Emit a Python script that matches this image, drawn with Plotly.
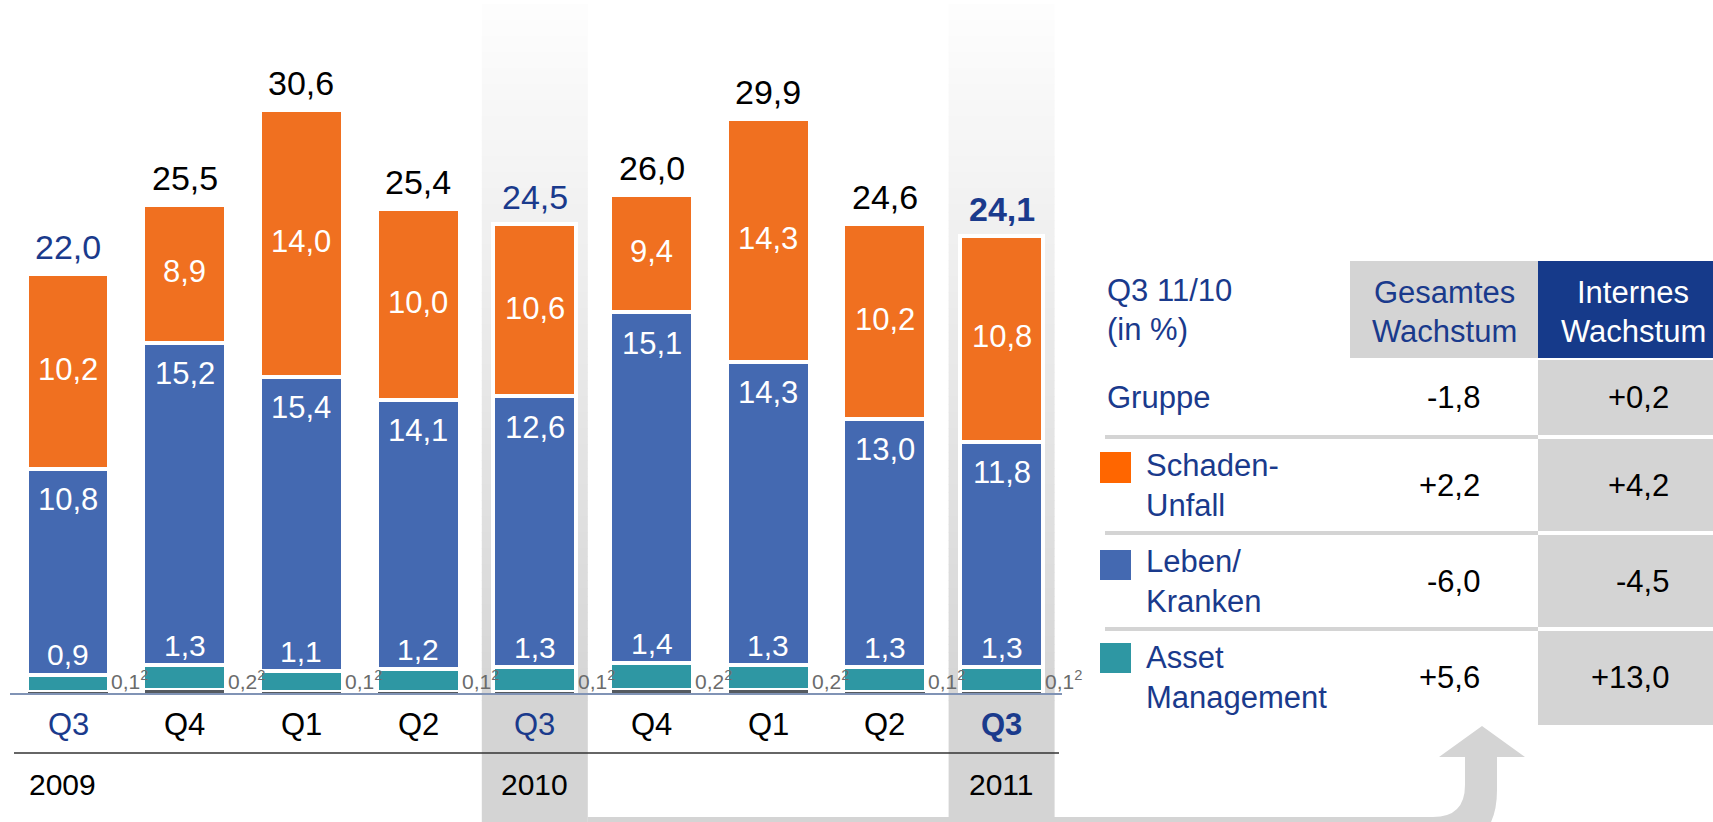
import numpy as np
import plotly.graph_objects as go

# ---------------- data ----------------
quarters = ["Q3", "Q4", "Q1", "Q2", "Q3", "Q4", "Q1", "Q2", "Q3"]
year_labels = ["2009", "2010", "2011"]
year_positions = [0, 4, 8]
highlight = [4, 8]

# printed segment values (labels)
corporate = [0.1, 0.2, 0.1, 0.1, 0.1, 0.2, 0.2, 0.1, 0.1]
asset_management = [0.9, 1.3, 1.1, 1.2, 1.3, 1.4, 1.3, 1.3, 1.3]
life_health = [10.8, 15.2, 15.4, 14.1, 12.6, 15.1, 14.3, 13.0, 11.8]
property_casualty = [10.2, 8.9, 14.0, 10.0, 10.6, 9.4, 14.3, 10.2, 10.8]
totals = [22.0, 25.5, 30.6, 25.4, 24.5, 26.0, 29.9, 24.6, 24.1]
# segment heights as drawn in the picture (some segments are not drawn to scale)
life_health_drawn = [10.8, 16.9, 15.4, 14.1, 14.2, 18.4, 15.9, 13.0, 11.8]
property_casualty_drawn = [10.2, 7.2, 14.0, 10.0, 9.0, 6.1, 12.7, 10.2, 10.8]

table_title = ["Q3 11/10", "(in %)"]
col_headers = [["Gesamtes", "Wachstum"], ["Internes", "Wachstum"]]
row_labels = [["Gruppe"], ["Schaden-", "Unfall"], ["Leben/", "Kranken"], ["Asset", "Management"]]
total_growth = [-1.8, 2.2, -6.0, 5.6]
internal_growth = [0.2, 4.2, -4.5, 13.0]

# ---------------- styling ----------------
W, H = 1713, 822
FONT = "Liberation Sans, Arial, sans-serif"
ORANGE = "#F07020"
BLUE = "#4469B1"
TEAL = "#2E97A3"
DARKGREY = "#555A60"
NAVY = "#1A3A8C"
LIGHTGREY = "#D4D4D4"

X0, DX = 68.0, 116.7     # pixel of category 0, pixel per category
Y0, DY = 694.0, 19.1     # pixel of value 0, pixel per unit


def fmt(v):
    return f"{v:.1f}".replace(".", ",")


def fmt_sign(v):
    return f"{v:+.1f}".replace(".", ",")


def px(x):
    return x / W


def py(y):
    return 1 - y / H


xs = np.arange(len(quarters))
corp = np.array(corporate)
am = np.array(asset_management)
lh = np.array(life_health_drawn)
pc = np.array(property_casualty_drawn)
base_am = corp
base_lh = corp + am
base_pc = corp + am + lh
top = base_pc + pc

BW = 0.71
fig = go.Figure()
for vals, base, col in [(am, base_am, TEAL), (lh, base_lh, BLUE), (pc, base_pc, ORANGE)]:
    fig.add_trace(go.Bar(x=xs, y=vals, base=base, width=BW, marker=dict(color=col, line=dict(color="white", width=4)),
                         hoverinfo="skip", showlegend=False))
fig.add_trace(go.Bar(x=xs, y=corp, base=np.zeros(len(xs)), width=0.68,
                     marker=dict(color=DARKGREY, line=dict(width=0)), hoverinfo="skip", showlegend=False))

shapes = []
# gradient highlight columns
for c in highlight:
    cx = X0 + DX * c
    x0, x1 = cx - 53, cx + 53
    ytop, ybot = 4, 700
    n = 87
    step = (ybot - ytop) / n
    for k in range(n):
        t = k / (n - 1)
        g = int(round(253 - t * (253 - 213)))
        col = f"rgb({g},{g},{g})"
        shapes.append(dict(type="rect", xref="paper", yref="paper", x0=px(x0), x1=px(x1),
                           y0=py(ytop + (k + 1) * step + 0.5), y1=py(ytop + k * step),
                           fillcolor=col, line=dict(width=0), layer="below"))
    shapes.append(dict(type="rect", xref="paper", yref="paper", x0=px(x0), x1=px(x1),
                       y0=py(H), y1=py(ybot), fillcolor=LIGHTGREY, line=dict(width=0), layer="below"))

# arrow from 2010 column to table
pts = ("M {a},{b} L 1433,817 Q 1465,817 1465,785 L 1465,757 L 1439,757 L 1482,726 L 1525,757 "
       "L 1497,757 L 1497,790 Q 1497,849 1440,849 L {a},849 Z").format(a=X0 + DX * 4 + 53, b=817)


def conv_path(p):
    out = []
    for tok in p.split():
        if "," in tok:
            a, b = tok.split(",")
            out.append(f"{px(float(a)):.5f},{py(float(b)):.5f}")
        else:
            out.append(tok)
    return " ".join(out)


shapes.append(dict(type="path", xref="paper", yref="paper", path=conv_path(pts),
                   fillcolor=LIGHTGREY, line=dict(width=0), layer="below"))

# axis line and year separator line
shapes.append(dict(type="line", xref="paper", yref="paper", x0=px(10), x1=px(1062), y0=py(694), y1=py(694),
                   line=dict(color="#8093B5", width=2), layer="above"))
shapes.append(dict(type="line", xref="paper", yref="paper", x0=px(14), x1=px(1059), y0=py(753), y1=py(753),
                   line=dict(color="#333333", width=1.5), layer="above"))

# table boxes
TL, C1, C2, TR = 1105, 1350, 1538, 1713
shapes.append(dict(type="rect", xref="paper", yref="paper", x0=px(C1), x1=px(C2), y0=py(358), y1=py(261),
                   fillcolor=LIGHTGREY, line=dict(width=0)))
shapes.append(dict(type="rect", xref="paper", yref="paper", x0=px(C2), x1=px(TR), y0=py(358), y1=py(261),
                   fillcolor="#163A8A", line=dict(width=0)))
shapes.append(dict(type="rect", xref="paper", yref="paper", x0=px(C2), x1=px(TR), y0=py(725), y1=py(360),
                   fillcolor=LIGHTGREY, line=dict(width=0)))
for ysep in [437, 533, 629]:
    shapes.append(dict(type="rect", xref="paper", yref="paper", x0=px(TL), x1=px(C2), y0=py(ysep + 2),
                       y1=py(ysep - 2), fillcolor=LIGHTGREY, line=dict(width=0)))
    shapes.append(dict(type="rect", xref="paper", yref="paper", x0=px(C2), x1=px(TR), y0=py(ysep + 2),
                       y1=py(ysep - 2), fillcolor="white", line=dict(width=0)))
# legend squares
for (y0s, y1s), col in zip([(452, 483), (550, 580), (643, 673)], ["#FF6600", BLUE, TEAL]):
    shapes.append(dict(type="rect", xref="paper", yref="paper", x0=px(1100), x1=px(1131), y0=py(y1s), y1=py(y0s),
                       fillcolor=col, line=dict(width=0)))

ann = []


def txt(text, x, y, size=31, color="black", xanchor="center", xref="paper", yref="paper", yshift=0, xshift=0,
        bold=False):
    if bold:
        text = f"<b>{text}</b>"
    ann.append(dict(text=text, x=x, y=y, xref=xref, yref=yref, xanchor=xanchor, yanchor="middle",
                    showarrow=False, font=dict(family=FONT, size=size, color=color), yshift=yshift, xshift=xshift))


for i in range(len(quarters)):
    is_q3 = quarters[i] == "Q3"
    bold = i == 8
    # total
    txt(fmt(totals[i]), i, top[i], size=34, color=NAVY if is_q3 else "black", xref="x", yref="y", yshift=27,
        bold=bold)
    # segment labels
    txt(fmt(property_casualty[i]), i, base_pc[i] + pc[i] / 2, color="white", xref="x", yref="y", yshift=2)
    txt(fmt(life_health[i]), i, base_lh[i] + lh[i], color="white", xref="x", yref="y", yshift=-31)
    txt(fmt(asset_management[i]), i, base_am[i] + am[i], size=30, color="white", xref="x", yref="y", yshift=20)
    txt(fmt(corporate[i]) + "<sup>2</sup>", i + BW / 2, 0, size=21, color="#6B6B6B", xanchor="left", xref="x",
        yref="y", yshift=14, xshift=0)
    # quarter label
    txt(quarters[i], i, py(724), size=31, color=NAVY if is_q3 else "black", xref="x", bold=bold)

for lab, pos in zip(year_labels, year_positions):
    if pos == 0:
        txt(lab, px(27), py(784), size=30, xanchor="left")
    else:
        txt(lab, pos, py(784), size=30, xref="x")

# table text
txt(table_title[0], px(1105), py(291), color=NAVY, xanchor="left")
txt(table_title[1], px(1105), py(329), color=NAVY, xanchor="left")
for j, (hdr, cx, col) in enumerate(zip(col_headers, [1444, 1633], [NAVY, "white"])):
    txt(hdr[0], px(cx), py(292), color=col)
    txt(hdr[1], px(cx), py(331), color=col)

row_centers = [397, 485, 581, 677]
for lab, yc, g1, g2 in zip(row_labels, row_centers, total_growth, internal_growth):
    if len(lab) == 1:
        txt(lab[0], px(1105), py(yc), color=NAVY, xanchor="left")
    else:
        txt(lab[0], px(1144), py(yc - 20), color=NAVY, xanchor="left")
        txt(lab[1], px(1144), py(yc + 20), color=NAVY, xanchor="left")
    txt(fmt_sign(g1), px(1482), py(yc), xanchor="right")
    txt(fmt_sign(g2), px(1671), py(yc), xanchor="right")

fig.update_layout(
    width=W, height=H, autosize=False,
    margin=dict(l=0, r=0, t=0, b=0, pad=0),
    paper_bgcolor="white", plot_bgcolor="white",
    barmode="overlay", bargap=0,
    xaxis=dict(range=[(0 - X0) / DX, (W - X0) / DX], visible=False, fixedrange=True),
    yaxis=dict(range=[(Y0 - H) / DY, Y0 / DY], visible=False, fixedrange=True),
    shapes=shapes, annotations=ann, showlegend=False,
)

fig.write_html("out.html", config={"displayModeBar": False},
               post_script="document.body.style.margin='0';document.body.style.overflow='hidden';")
